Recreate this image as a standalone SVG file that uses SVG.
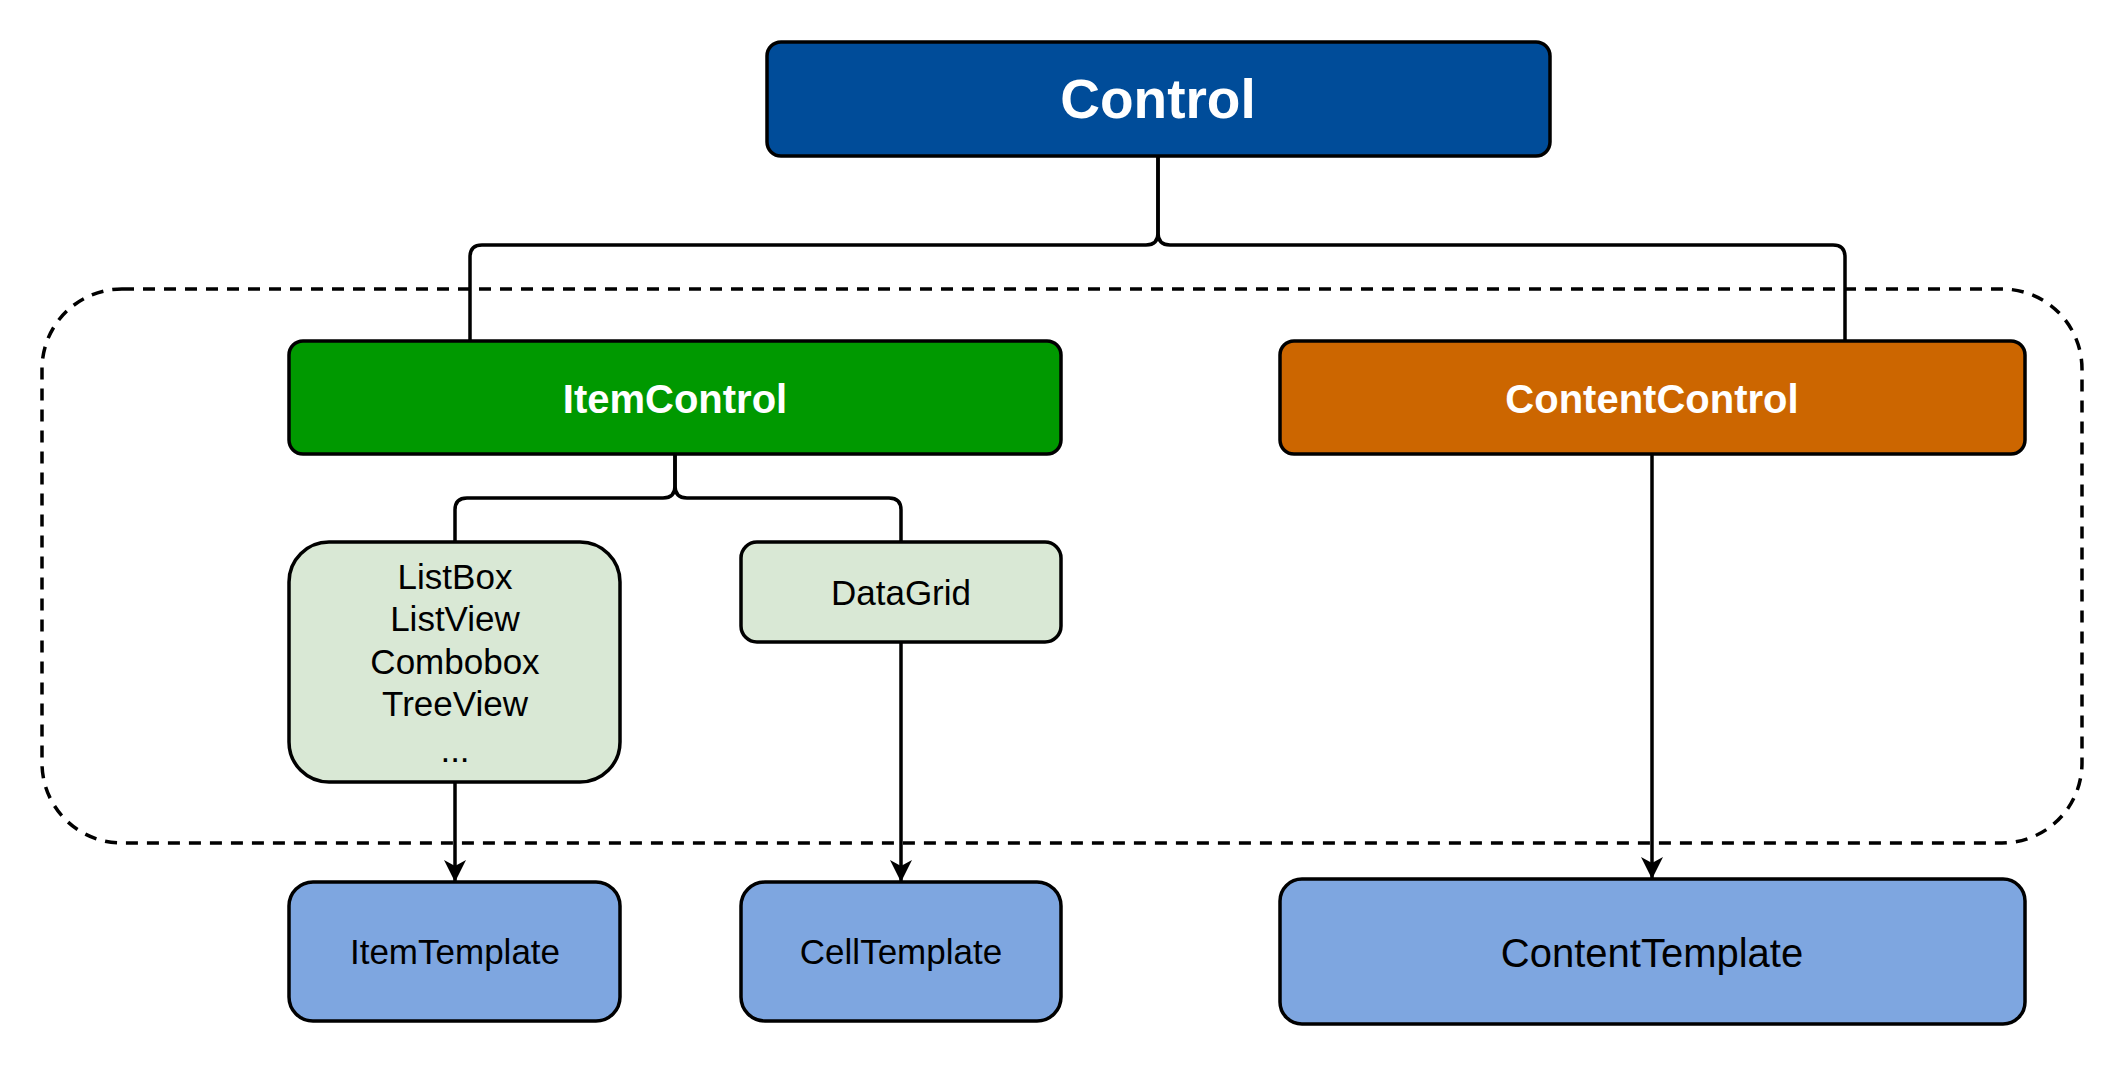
<svg xmlns="http://www.w3.org/2000/svg" width="2124" height="1068" viewBox="0 0 2124 1068">
<style>
.box{stroke:#000;stroke-width:3.5}
.t{font-family:"Liberation Sans",Arial,sans-serif;text-anchor:middle;dominant-baseline:central}
.b{font-weight:bold;fill:#fff}
.n{fill:#000;font-size:35px}
.n.big{font-size:40px}
.conn{fill:none;stroke:#000;stroke-width:3.5}
</style>
<defs>
<marker id="arr" markerWidth="22" markerHeight="24" viewBox="0 0 22 24" refX="21" refY="12" orient="auto" markerUnits="userSpaceOnUse">
<path d="M0,1 L22,12 L0,23 L6,12 Z" fill="#000"/>
</marker>
</defs>
<rect width="2124" height="1068" fill="#fff"/>
<g id="container">
<rect x="42" y="289" width="2040" height="554" rx="80" ry="80" fill="none" stroke="#000" stroke-width="3.5" stroke-dasharray="12 9"/>
</g>
<g id="connectors">
<path class="conn" d="M1158,156 V233 Q1158,245 1146,245 H482 Q470,245 470,257 V341"/>
<path class="conn" d="M1158,156 V233 Q1158,245 1170,245 H1833 Q1845,245 1845,257 V341"/>
<path class="conn" d="M675,454 V486 Q675,498 663,498 H467 Q455,498 455,510 V542"/>
<path class="conn" d="M675,454 V486 Q675,498 687,498 H889 Q901,498 901,510 V542"/>
<path class="conn" d="M455,782 V881" marker-end="url(#arr)"/>
<path class="conn" d="M901,642 V881" marker-end="url(#arr)"/>
<path class="conn" d="M1652,454 V878" marker-end="url(#arr)"/>
</g>
<g id="control">
<rect class="box" x="767" y="42" width="783" height="114" rx="14" fill="#004C99"/>
<text class="t b" x="1158" y="99" font-size="55">Control</text>
</g>
<g id="itemcontrol">
<rect class="box" x="289" y="341" width="772" height="113" rx="14" fill="#009900"/>
<text class="t b" x="675" y="399" font-size="40">ItemControl</text>
</g>
<g id="contentcontrol">
<rect class="box" x="1280" y="341" width="745" height="113" rx="14" fill="#CC6600"/>
<text class="t b" x="1652" y="399" font-size="40">ContentControl</text>
</g>
<g id="listbox">
<rect class="box" x="289" y="542" width="331" height="240" rx="40" fill="#D9E8D5"/>
<text class="t n" x="455" y="576">ListBox</text>
<text class="t n" x="455" y="618">ListView</text>
<text class="t n" x="455" y="661">Combobox</text>
<text class="t n" x="455" y="703">TreeView</text>
<text class="t n" x="455" y="749">...</text>
</g>
<g id="datagrid">
<rect class="box" x="741" y="542" width="320" height="100" rx="16" fill="#D9E8D5"/>
<text class="t n" x="901" y="592">DataGrid</text>
</g>
<g id="itemtemplate">
<rect class="box" x="289" y="882" width="331" height="139" rx="24" fill="#7EA6E0"/>
<text class="t n" x="455" y="951">ItemTemplate</text>
</g>
<g id="celltemplate">
<rect class="box" x="741" y="882" width="320" height="139" rx="24" fill="#7EA6E0"/>
<text class="t n" x="901" y="951">CellTemplate</text>
</g>
<g id="contenttemplate">
<rect class="box" x="1280" y="879" width="745" height="145" rx="22" fill="#7EA6E0"/>
<text class="t n big" x="1652" y="953">ContentTemplate</text>
</g>
</svg>
